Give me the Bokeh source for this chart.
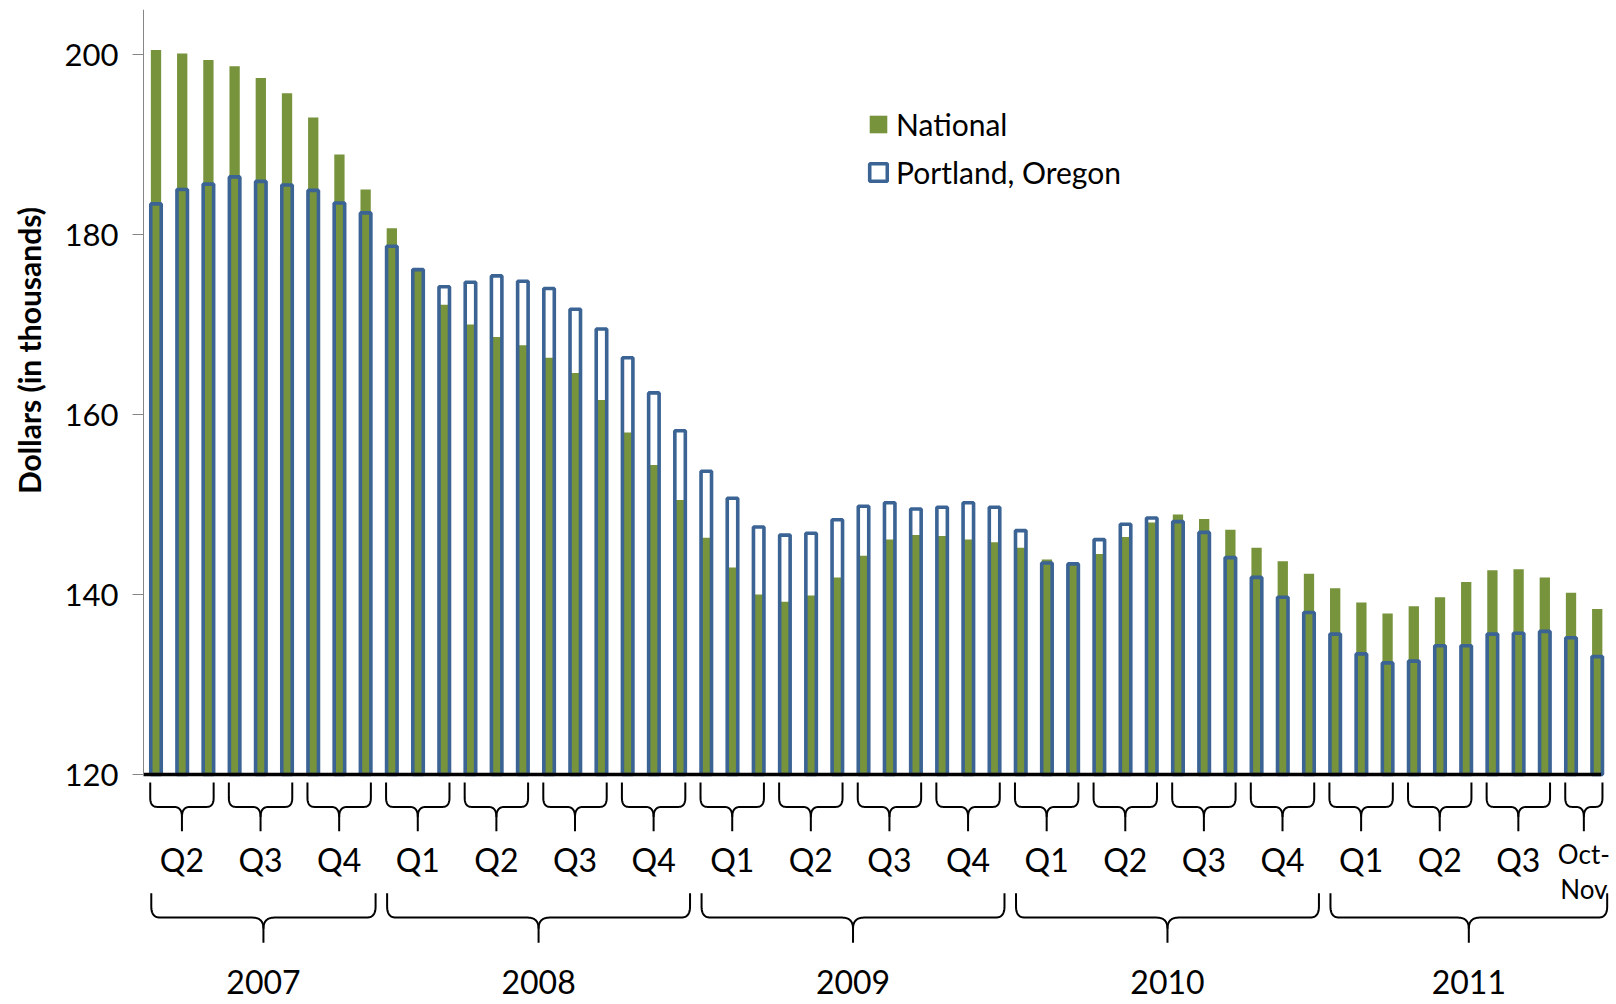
import numpy as np
import pandas as pd
from bokeh.plotting import figure
from bokeh.models import Range1d, FixedTicker, Legend, LegendItem
from bokeh.embed import file_html
from bokeh.resources import INLINE
from bokeh.core.properties import value

# ---------------- data ----------------
months = [str(m) for m in pd.period_range("2007-04", "2011-11", freq="M")]

national = [200.5, 200.1, 199.4, 198.7, 197.4, 195.7, 193.0, 188.9, 185.0,
            180.7, 176.0, 172.2, 170.0, 168.6, 167.7, 166.3, 164.6, 161.6, 158.0, 154.4, 150.5,
            146.3, 143.0, 140.0, 139.2, 139.9, 141.9, 144.3, 146.1, 146.6, 146.5, 146.1, 145.8,
            145.2, 143.9, 143.3, 144.5, 146.4, 148.0, 148.9, 148.4, 147.2, 145.2, 143.7, 142.3,
            140.7, 139.1, 137.9, 138.7, 139.7, 141.4, 142.7, 142.8, 141.9, 140.2, 138.4]

portland = [183.4, 185.0, 185.6, 186.4, 185.9, 185.5, 184.9, 183.5, 182.4,
            178.7, 176.1, 174.2, 174.7, 175.4, 174.8, 174.0, 171.7, 169.5, 166.3, 162.4, 158.2,
            153.7, 150.7, 147.5, 146.6, 146.8, 148.3, 149.8, 150.2, 149.5, 149.7, 150.2, 149.7,
            147.1, 143.5, 143.4, 146.1, 147.8, 148.5, 148.1, 146.9, 144.1, 141.9, 139.7, 138.0,
            135.6, 133.4, 132.4, 132.6, 134.3, 134.3, 135.6, 135.7, 135.9, 135.2, 133.1]

quarter_labels = ["Q2", "Q3", "Q4",
                  "Q1", "Q2", "Q3", "Q4",
                  "Q1", "Q2", "Q3", "Q4",
                  "Q1", "Q2", "Q3", "Q4",
                  "Q1", "Q2", "Q3", "Oct-\nNov"]
year_labels = ["2007", "2008", "2009", "2010", "2011"]

y_ticks = [120, 140, 160, 180, 200]
y_title = "Dollars (in thousands)"

# ---------------- layout constants ----------------
W, H = 1616, 1004
AXIS_PX = 143          # pixel position of the value axis
TOP = 9
PXX = 26.204           # pixels per month slot
PXY = 9.0              # pixels per thousand dollars
AXIS_X = -0.477        # data x of the value axis
XL = AXIS_X - AXIS_PX / PXX
XR = XL + W / PXX
Y1 = 205.0
Y0 = Y1 - (H - TOP) / PXY
BASE = 120

FONT = "Lato"
GREEN = "#77933C"
BLUE = "#3B6495"

n = len(months)
xs = np.arange(n)

p = figure(width=W, height=H, output_backend="svg", toolbar_location=None,
           x_range=Range1d(XL, XR), y_range=Range1d(Y0, Y1),
           x_axis_location=None,
           min_border_left=0, min_border_right=0, min_border_top=TOP, min_border_bottom=0)
p.outline_line_color = None
p.grid.visible = False
p.background_fill_color = "white"
p.border_fill_color = "white"

# y axis, drawn at a fixed place inside the plotting area
ax = p.yaxis[0]
ax.fixed_location = AXIS_X
ax.bounds = (BASE, Y1)
ax.ticker = FixedTicker(ticks=y_ticks)
ax.axis_line_color = "#868686"
ax.axis_line_width = 1
ax.major_tick_line_color = "#868686"
ax.major_tick_out = 11
ax.major_tick_in = 0
ax.minor_tick_line_color = None
ax.major_label_standoff = 14
ax.major_label_text_font = FONT
ax.major_label_text_font_size = "31px"
ax.major_label_text_color = "black"

# y axis title
p.text(x=[AXIS_X - (AXIS_PX - 28) / PXX], y=[167.1], text=[y_title], angle=np.pi / 2,
       text_font=value(FONT), text_font_style="bold", text_font_size="30px",
       text_color="black", text_align="center", text_baseline="middle")

# bars
g = p.vbar(x=xs, top=national, bottom=BASE, width=0.393, fill_color=GREEN, line_color=None)
b = p.vbar(x=xs, top=portland, bottom=BASE, width=0.40, fill_color=None,
           line_color=BLUE, line_width=3.6)

# baseline
p.line(x=[AXIS_X, n - 1 + 0.15], y=[BASE, BASE], line_color="black", line_width=3.5)

# ---------------- braces ----------------
def brace(x0, x1, yt, ym, yb, rxp, ryp, cxp, cyp, steps=14):
    rx, ry = rxp / PXX, ryp / PXY
    cx, cy = cxp / PXX, cyp / PXY
    xc = (x0 + x1) / 2.0
    t = np.linspace(0, 1, steps)

    def quad(a, c, e):
        return ((1 - t) ** 2 * a[0] + 2 * (1 - t) * t * c[0] + t ** 2 * e[0],
                (1 - t) ** 2 * a[1] + 2 * (1 - t) * t * c[1] + t ** 2 * e[1])

    lx, ly = [x0], [yt]
    qx, qy = quad((x0, ym + ry), (x0, ym), (x0 + rx, ym))
    lx += list(qx); ly += list(qy)
    qx, qy = quad((xc - cx, ym), (xc, ym), (xc, ym - cy))
    lx += list(qx); ly += list(qy)
    lx.append(xc); ly.append(yb)

    rxs, rys = [], []
    qx, qy = quad((xc, ym - cy), (xc, ym), (xc + cx, ym))
    rxs += list(qx); rys += list(qy)
    qx, qy = quad((x1 - rx, ym), (x1, ym), (x1, ym + ry))
    rxs += list(qx); rys += list(qy)
    rxs.append(x1); rys.append(yt)
    return [lx, rxs], [ly, rys], xc


periods = pd.PeriodIndex(months, freq="M")
qkey = [f"{pp.year}Q{pp.quarter}" for pp in periods]
ykey = [pp.year for pp in periods]

def groups(keys):
    out = []
    start = 0
    for i in range(1, n + 1):
        if i == n or keys[i] != keys[start]:
            out.append((start, i - 1))
            start = i
    return out

qgroups = groups(qkey)
ygroups = groups(ykey)

bx, by, qx, yx = [], [], [], []
for (i0, i1) in qgroups:
    mx, my, c = brace(i0 - 0.22, i1 + 0.2, 119.1, 116.4, 113.7, 7, 9, 8, 10)
    bx += mx; by += my; qx.append(c)
for (i0, i1) in ygroups:
    mx, my, c = brace(i0 - 0.18, i1 + 0.38, 106.8, 104.1, 101.3, 9, 11, 11, 11)
    bx += mx; by += my; yx.append(c)
p.multi_line(xs=bx, ys=by, line_color="black", line_width=2, line_join="round")

# ---------------- labels ----------------
main_q = [i for i, s in enumerate(quarter_labels) if "\n" not in s]
last_q = [i for i, s in enumerate(quarter_labels) if "\n" in s]
p.text(x=[qx[i] for i in main_q], y=[110.6] * len(main_q), text=[quarter_labels[i] for i in main_q],
       text_font=value(FONT), text_font_size="32px", text_align="center",
       text_baseline="middle", text_color="black")
p.text(x=[qx[i] for i in last_q], y=[109.2] * len(last_q), text=[quarter_labels[i] for i in last_q],
       text_font=value(FONT), text_font_size="26px", text_align="center",
       text_baseline="middle", text_color="black", text_line_height=1.1)

p.text(x=yx, y=[96.9] * len(yx), text=year_labels,
       text_font=value(FONT), text_font_size="32px", text_align="center",
       text_baseline="middle", text_color="black")

# ---------------- legend ----------------
legend = Legend(items=[LegendItem(label="National", renderers=[g]),
                       LegendItem(label="Portland, Oregon", renderers=[b])],
                location=(724 + AXIS_PX, 814), orientation="vertical",
                glyph_width=22, glyph_height=22, label_standoff=7, spacing=12,
                padding=0, margin=0, border_line_color=None, background_fill_alpha=0,
                label_text_font=FONT, label_text_font_size="30px", label_text_color="black")
p.add_layout(legend)

open("out.html", "w").write(file_html(p, INLINE))
